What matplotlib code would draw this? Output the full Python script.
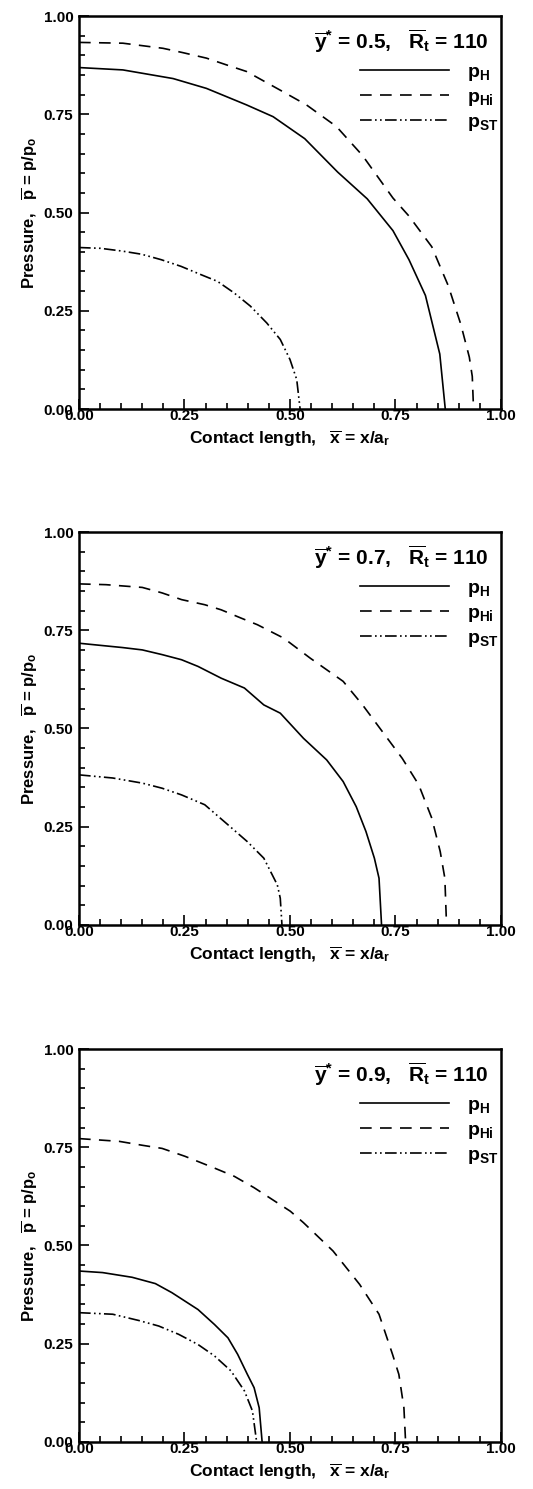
import numpy as np
import matplotlib
matplotlib.use("Agg")
import matplotlib.pyplot as plt
from matplotlib.ticker import MultipleLocator, FormatStrFormatter

plt.rcParams['font.family'] = ['Liberation Sans', 'DejaVu Sans']
plt.rcParams['font.weight'] = 'bold'
plt.rcParams['mathtext.fontset'] = 'custom'
plt.rcParams['mathtext.rm'] = 'Liberation Sans:bold'
plt.rcParams['mathtext.bf'] = 'Liberation Sans:bold'
plt.rcParams['mathtext.it'] = 'Liberation Sans:bold'
plt.rcParams['mathtext.default'] = 'bf'

# y* = 0.5
x_h_05 = [0, 0.104, 0.223, 0.302, 0.397, 0.460, 0.535, 0.613, 0.683, 0.744, 0.782, 0.821, 0.855, 0.868]
p_h_05 = [0.869, 0.863, 0.841, 0.816, 0.774, 0.744, 0.688, 0.603, 0.535, 0.454, 0.380, 0.289, 0.140, 0.0]
x_hi_05 = [0, 0.104, 0.199, 0.246, 0.302, 0.349, 0.397, 0.476, 0.539, 0.610, 0.672, 0.744, 0.782, 0.836, 0.875, 0.905, 0.925, 0.932, 0.935]
p_hi_05 = [0.933, 0.931, 0.918, 0.907, 0.893, 0.876, 0.859, 0.812, 0.774, 0.719, 0.645, 0.537, 0.491, 0.413, 0.314, 0.215, 0.132, 0.083, 0.0]
x_st_05 = [0, 0.051, 0.102, 0.148, 0.195, 0.242, 0.289, 0.328, 0.367, 0.406, 0.445, 0.477, 0.500, 0.516, 0.524]
p_st_05 = [0.411, 0.409, 0.402, 0.394, 0.380, 0.363, 0.342, 0.325, 0.296, 0.262, 0.219, 0.177, 0.126, 0.075, 0.0]

# y* = 0.7
x_h_07 = [0, 0.056, 0.103, 0.150, 0.197, 0.243, 0.282, 0.337, 0.392, 0.438, 0.477, 0.532, 0.587, 0.626, 0.657, 0.680, 0.700, 0.711, 0.717]
p_h_07 = [0.717, 0.711, 0.706, 0.700, 0.688, 0.675, 0.658, 0.628, 0.603, 0.560, 0.539, 0.475, 0.420, 0.365, 0.301, 0.238, 0.170, 0.119, 0.0]
x_hi_07 = [0, 0.064, 0.150, 0.197, 0.243, 0.298, 0.337, 0.384, 0.423, 0.485, 0.548, 0.626, 0.672, 0.719, 0.766, 0.805, 0.836, 0.856, 0.867, 0.871]
p_hi_07 = [0.868, 0.866, 0.859, 0.845, 0.828, 0.815, 0.802, 0.781, 0.764, 0.730, 0.679, 0.620, 0.560, 0.492, 0.424, 0.357, 0.272, 0.187, 0.119, 0.0]
x_st_07 = [0, 0.080, 0.150, 0.197, 0.243, 0.298, 0.353, 0.399, 0.438, 0.470, 0.477, 0.481]
p_st_07 = [0.382, 0.374, 0.361, 0.348, 0.331, 0.306, 0.255, 0.212, 0.170, 0.102, 0.068, 0.0]

# y* = 0.9
x_h_09 = [0, 0.056, 0.126, 0.181, 0.220, 0.282, 0.321, 0.353, 0.376, 0.399, 0.415, 0.427, 0.434]
p_h_09 = [0.435, 0.431, 0.419, 0.403, 0.380, 0.337, 0.299, 0.265, 0.223, 0.172, 0.138, 0.087, 0.0]
x_hi_09 = [0, 0.095, 0.150, 0.197, 0.251, 0.321, 0.368, 0.415, 0.501, 0.532, 0.602, 0.665, 0.711, 0.743, 0.758, 0.770, 0.774]
p_hi_09 = [0.772, 0.765, 0.755, 0.747, 0.727, 0.697, 0.676, 0.647, 0.587, 0.558, 0.486, 0.401, 0.325, 0.223, 0.172, 0.087, 0.0]
x_st_09 = [0, 0.080, 0.142, 0.189, 0.236, 0.282, 0.321, 0.360, 0.392, 0.411, 0.421]
p_st_09 = [0.329, 0.325, 0.309, 0.295, 0.274, 0.248, 0.219, 0.181, 0.130, 0.079, 0.0]

panels = [
    ("0.5", (x_h_05, p_h_05), (x_hi_05, p_hi_05), (x_st_05, p_st_05)),
    ("0.7", (x_h_07, p_h_07), (x_hi_07, p_hi_07), (x_st_07, p_st_07)),
    ("0.9", (x_h_09, p_h_09), (x_hi_09, p_hi_09), (x_st_09, p_st_09)),
]
bottoms = [0.7253, 0.3788, 0.0316]

fig = plt.figure(figsize=(5.33, 14.89), dpi=100)

for (ystar, h, hi, st), b in zip(panels, bottoms):
    ax = fig.add_axes([0.1482, b, 0.7917, 0.2639])
    ax.plot(*h, color='black', lw=1.2, label=r'$p_{H}$')
    ax.plot(*hi, color='black', lw=1.2, dashes=(7, 5), label=r'$p_{Hi}$')
    ax.plot(*st, color='black', lw=1.2, dashes=(7, 2, 1, 2, 1, 2), label=r'$p_{ST}$')

    ax.set_xlim(0, 1)
    ax.set_ylim(0, 1)
    ax.xaxis.set_major_locator(MultipleLocator(0.25))
    ax.xaxis.set_minor_locator(MultipleLocator(0.05))
    ax.yaxis.set_major_locator(MultipleLocator(0.25))
    ax.yaxis.set_minor_locator(MultipleLocator(0.05))
    ax.xaxis.set_major_formatter(FormatStrFormatter('%.2f'))
    ax.yaxis.set_major_formatter(FormatStrFormatter('%.2f'))
    ax.tick_params(which='both', direction='in', top=False, right=False, width=1.2, labelsize=11)
    ax.tick_params(which='major', length=7)
    ax.tick_params(which='minor', length=4)
    ax.tick_params(axis='x', pad=0)
    ax.tick_params(axis='y', pad=4)
    for s in ax.spines.values():
        s.set_linewidth(1.8)

    ax.set_xlabel(r'Contact length,   $\overline{x}$ = x/a$_r$', fontsize=12.5, fontweight='bold', labelpad=4)
    ax.set_ylabel(r'Pressure,   $\overline{p}$ = p/p$_o$', fontsize=12, fontweight='bold', labelpad=3)

    ax.text(0.97, 0.935, r'$\overline{y}^{*}$ = ' + ystar + r',   $\overline{R}_{t}$ = 110',
            transform=ax.transAxes, ha='right', va='center', fontsize=15, fontweight='bold')
    ax.legend(loc='upper right', bbox_to_anchor=(1.0, 0.888), frameon=False, fontsize=14,
              handlelength=4.6, handletextpad=0.9, labelspacing=0.28, borderaxespad=0.0,
              borderpad=0.15)

fig.savefig('out.png', dpi=100)
